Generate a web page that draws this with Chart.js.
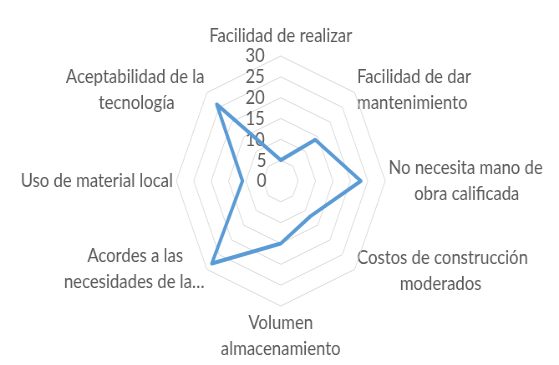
<!DOCTYPE html>
<html>
<head>
<meta charset="utf-8">
<script src="https://cdn.jsdelivr.net/npm/chart.js@4.4.1/dist/chart.umd.min.js"></script>
<style>
  html, body { margin: 0; padding: 0; background: #fff; }
</style>
</head>
<body>
<!-- the original picture is squeezed sideways, so draw wide and scale down -->
<canvas id="radar" width="669" height="365" style="display:block;width:559px;height:365px"></canvas>
<script>
// DATA
const categories = [
    ['Facilidad de realizar'],
    ['Facilidad de dar', 'mantenimiento'],
    ['No necesita mano de', 'obra calificada'],
    ['Costos de construcción', 'moderados'],
    ['Volumen', 'almacenamiento'],
    ['Acordes a las', 'necesidades de la…'],
    ['Uso de material local'],
    ['Aceptabilidad de la', 'tecnología']
];
const values = [5, 14, 23, 12, 15, 28, 11, 26];
const tickValues = [0, 5, 10, 15, 20, 25, 30];

const FONT_FAMILY = 'Lato';
const FONT_SIZE = 20;
const TEXT_COLOR = '#595959';

const measureCtx = document.createElement('canvas').getContext('2d');
function textWidth(s){
    measureCtx.font = FONT_SIZE + 'px ' + FONT_FAMILY;
    return measureCtx.measureText(s).width;
}

// center the lines of a label (excel centers them, chart.js aligns them)
function centerLines(lines, side){
    if(lines.length < 2 || side === 'center') return lines;
    const spaceW = textWidth(' ');
    const widest = Math.max(...lines.map(textWidth));
    return lines.map(line => {
        const n = Math.round((widest - textWidth(line)) / 2 / spaceW);
        const pad = ' '.repeat(n);
        return side === 'left' ? pad + line : line + pad;
    });
}

const sides = ['center', 'left', 'left', 'left', 'center', 'right', 'right', 'right'];
const labels = categories.map((lines, i) => centerLines(lines, sides[i]));
// empty line on top label only balances the radial layout
labels[0] = [''].concat(labels[0]);

// small vertical touch ups of the axis labels
const labelShift = [-3, 0, 0, -2, 0, -4, 0, 0];

// tick numbers sit left of the vertical axis, right aligned
function tickLabel(v){
    const txt = String(Math.round(v));
    const gap = 18;
    const n = Math.round((textWidth(txt) + 2 * gap) / textWidth(' '));
    return txt + ' '.repeat(n);
}

// diagonal labels are centered on their spoke like in excel
const centerDiagonalLabels = {
    id: 'centerDiagonalLabels',
    afterLayout(chart){
        const scale = chart.scales.r;
        (scale._pointLabelItems || []).forEach((item, i) => {
            const h = item.bottom - item.top;
            let dy = labelShift[i] || 0;
            if(item.textAlign !== 'center'){
                if(item.bottom <= scale.yCenter + 1) dy += h / 2;
                else if(item.top >= scale.yCenter - 1) dy -= h / 2;
            }
            item.y += dy;
            item.top += dy;
            item.bottom += dy;
        });
    }
};

const ctx = document.getElementById('radar');

new Chart(ctx, {
    type: 'radar',
    data: {
        labels: labels,
        datasets: [{
            data: values,
            borderColor: '#5b9bd5',
            borderWidth: 4,
            borderJoinStyle: 'round',
            fill: false,
            pointRadius: 0,
            pointHoverRadius: 0,
            tension: 0
        }]
    },
    options: {
        responsive: false,
        devicePixelRatio: 1,
        animation: false,
        layout: { padding: { left: 6, bottom: 2 } },
        plugins: {
            legend: { display: false },
            tooltip: { enabled: false }
        },
        scales: {
            r: {
                min: -0.001,
                max: 30,
                afterBuildTicks: scale => {
                    scale.ticks = tickValues.map(v => ({ value: v }));
                },
                angleLines: { display: false },
                grid: { color: '#d9d9d9', lineWidth: 1 },
                ticks: {
                    showLabelBackdrop: false,
                    backdropPadding: 0,
                    color: TEXT_COLOR,
                    font: { family: FONT_FAMILY, size: FONT_SIZE },
                    callback: v => tickLabel(v)
                },
                pointLabels: {
                    color: TEXT_COLOR,
                    padding: -6,
                    font: { family: FONT_FAMILY, size: FONT_SIZE, lineHeight: '26px' }
                }
            }
        }
    },
    plugins: [centerDiagonalLabels]
});
</script>
</body>
</html>
